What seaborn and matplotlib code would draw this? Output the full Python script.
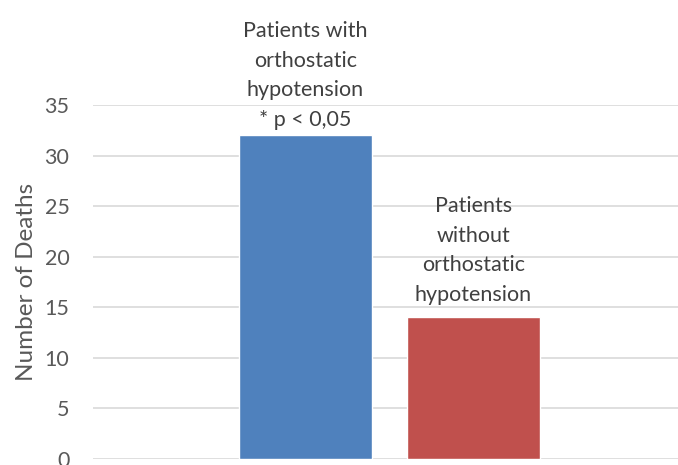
import pandas as pd
import matplotlib.pyplot as plt
import seaborn as sns

groups = ['Patients with\northostatic\nhypotension\n* p < 0,05',
          'Patients\nwithout\northostatic\nhypotension']
deaths = [32, 14]
colors = ['#4F81BD', '#C0504D']
yticks = [0, 5, 10, 15, 20, 25, 30, 35]

df = pd.DataFrame({'group': groups, 'deaths': deaths})

sns.set_style('white')
plt.rcParams['font.family'] = ['Lato', 'DejaVu Sans']

fig = plt.figure(figsize=(6.78, 4.65), dpi=100)
ax = fig.add_axes([93 / 678, 6 / 465, 593 / 678, 354 / 465])

sns.barplot(data=df, x='group', y='deaths', hue='group', palette=colors,
            width=0.79, legend=False, ax=ax, saturation=1)

ax.set_ylim(0, 35)
ax.set_xlim(-1.265, 2.265)
ax.set_yticks(yticks)
ax.set_xticks([])
ax.set_xlabel('')
ax.set_ylabel('Number of Deaths', fontsize=17.5, color='#595959', labelpad=5)
ax.tick_params(axis='y', labelsize=15.5, labelcolor='#595959', length=0, pad=17)
ax.grid(axis='y', color='#d9d9d9', linewidth=1.2)
ax.set_axisbelow(True)
for s in ax.spines.values():
    s.set_visible(False)

# label offsets above each bar (points)
offsets = [4, 9]
for i, (txt, val) in enumerate(zip(groups, deaths)):
    ax.annotate(txt, (i, val), xytext=(0, offsets[i]), textcoords='offset points',
                ha='center', va='bottom', fontsize=15.5, color='#404040',
                linespacing=1.6, annotation_clip=False)

fig.savefig('out.png', dpi=100)
